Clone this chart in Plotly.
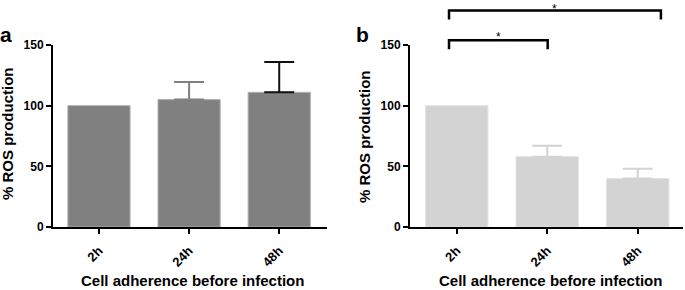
import plotly.graph_objects as go

categories = ["2h", "24h", "48h"]
values_a = [100, 105, 111]
err_a = [0, 14.5, 25]
values_b = [100, 58, 40]
err_b = [0, 9, 8]
y_ticks = [0, 50, 100, 150]
# significance comparisons in panel b: (from index, to index, level, label)
comparisons = [(0, 1, 154, "*"), (0, 2, 178.5, "*")]

FONT = "Liberation Sans, Arial, sans-serif"
xr_a = [-0.51, 2.53]
xr_b = [-0.516, 2.5]
idx = list(range(len(categories)))

fig = go.Figure()
fig.add_trace(go.Bar(x=idx, y=values_a, marker=dict(color="#808080", line=dict(color="#b0b0b0", width=1)),
                     width=0.69, xaxis="x", yaxis="y", showlegend=False))
fig.add_trace(go.Bar(x=idx, y=values_b, marker=dict(color="#d3d3d3", line=dict(color="#e4e4e4", width=1)),
                     width=0.69, xaxis="x2", yaxis="y2", showlegend=False))

# error bars (upper only)
err_colors_a = ["#808080", "#808080", "#111111"]
for i in idx:
    if err_a[i] > 0:
        fig.add_trace(go.Scatter(x=[i], y=[values_a[i]], mode="markers", marker=dict(size=1, opacity=0),
                                 error_y=dict(type="data", array=[err_a[i]], arrayminus=[0], width=15,
                                              thickness=2, color=err_colors_a[i]),
                                 xaxis="x", yaxis="y", showlegend=False, hoverinfo="skip"))
    if err_b[i] > 0:
        fig.add_trace(go.Scatter(x=[i], y=[values_b[i]], mode="markers", marker=dict(size=1, opacity=0),
                                 error_y=dict(type="data", array=[err_b[i]], arrayminus=[0], width=15,
                                              thickness=2, color="#d3d3d3"),
                                 xaxis="x2", yaxis="y2", showlegend=False, hoverinfo="skip"))

ydom = [1 - 227 / 290, 1 - 45 / 290]
axis_common = dict(showline=True, linecolor="black", linewidth=2, ticks="outside", ticklen=5,
                   tickwidth=2, tickcolor="black", showgrid=False, zeroline=False, automargin=False)
yfont = dict(family=FONT, size=12, color="black", weight="bold")
xfont = dict(family=FONT, size=13, color="black", weight="bold")
fig.update_layout(
    width=685, height=290, margin=dict(l=0, r=0, t=0, b=0, pad=0, autoexpand=False),
    paper_bgcolor="white", plot_bgcolor="white", showlegend=False,
    xaxis=dict(domain=[53 / 685, 327 / 685], range=xr_a, tickvals=idx, ticktext=categories,
               tickangle=-45, ticklabelstandoff=4, anchor="y", tickfont=xfont, **axis_common),
    yaxis=dict(domain=ydom, range=[0, 150], tickvals=y_ticks, anchor="x", tickfont=yfont, **axis_common),
    xaxis2=dict(domain=[410 / 685, 683 / 685], range=xr_b, tickvals=idx, ticktext=categories,
                tickangle=-45, ticklabelstandoff=4, anchor="y2", tickfont=xfont, **axis_common),
    yaxis2=dict(domain=ydom, range=[0, 150], tickvals=y_ticks, anchor="x2", tickfont=yfont, **axis_common),
    barmode="overlay",
)

title_font = dict(family=FONT, size=15, color="black", weight="bold")
ann = []
# y titles
ann.append(dict(x=7 / 685, y=1 - 134 / 290, xref="paper", yref="paper", text="% ROS production",
                textangle=-90, showarrow=False, font=title_font, xanchor="center", yanchor="middle"))
ann.append(dict(x=365 / 685, y=1 - 137 / 290, xref="paper", yref="paper", text="% ROS production",
                textangle=-90, showarrow=False, font=title_font, xanchor="center", yanchor="middle"))
# x titles
ann.append(dict(x=192 / 685, y=0, xref="paper", yref="paper", text="Cell adherence before infection",
                showarrow=False, font=title_font, xanchor="center", yanchor="bottom", yshift=-1))
ann.append(dict(x=550 / 685, y=0, xref="paper", yref="paper", text="Cell adherence before infection",
                showarrow=False, font=title_font, xanchor="center", yanchor="bottom", yshift=-1))
# panel letters
panel_font = dict(family=FONT, size=21, color="black", weight="bold")
ann.append(dict(x=0, y=1 - 43 / 290, xref="paper", yref="paper", text="a", showarrow=False,
                font=panel_font, xanchor="left", yanchor="bottom", xshift=-2, yshift=-5))
ann.append(dict(x=356 / 685, y=1 - 43 / 290, xref="paper", yref="paper", text="b", showarrow=False,
                font=panel_font, xanchor="left", yanchor="bottom", xshift=-2, yshift=-5))

# brackets in panel b
def fx(v):
    return (v - xr_b[0]) / (xr_b[1] - xr_b[0])

def fy(v):
    return v / 150.0

right_ext = [0.005, 0.256]
star_raise = [12, 10]
for k, (i0, i1, lvl, lab) in enumerate(comparisons):
    x0 = fx(i0 - 0.085)
    x1 = fx(i1 + right_ext[k])
    y_top = fy(lvl)
    y_bot = fy(lvl - 7.4)
    fig.add_shape(type="path", xref="x2 domain", yref="y2 domain",
                  path=f"M {x0} {y_bot} L {x0} {y_top} L {x1} {y_top} L {x1} {y_bot}",
                  line=dict(color="black", width=2.5))
    ann.append(dict(x=(x0 + x1) / 2, y=y_top, xref="x2 domain", yref="y2 domain", text=lab,
                    showarrow=False, font=dict(family=FONT, size=12, color="black"),
                    xanchor="center", yanchor="top", yshift=star_raise[k]))

fig.update_layout(annotations=ann)
fig.write_html("out.html", config={"displayModeBar": False},
               post_script="document.body.style.margin='0';document.body.style.overflow='hidden';")
